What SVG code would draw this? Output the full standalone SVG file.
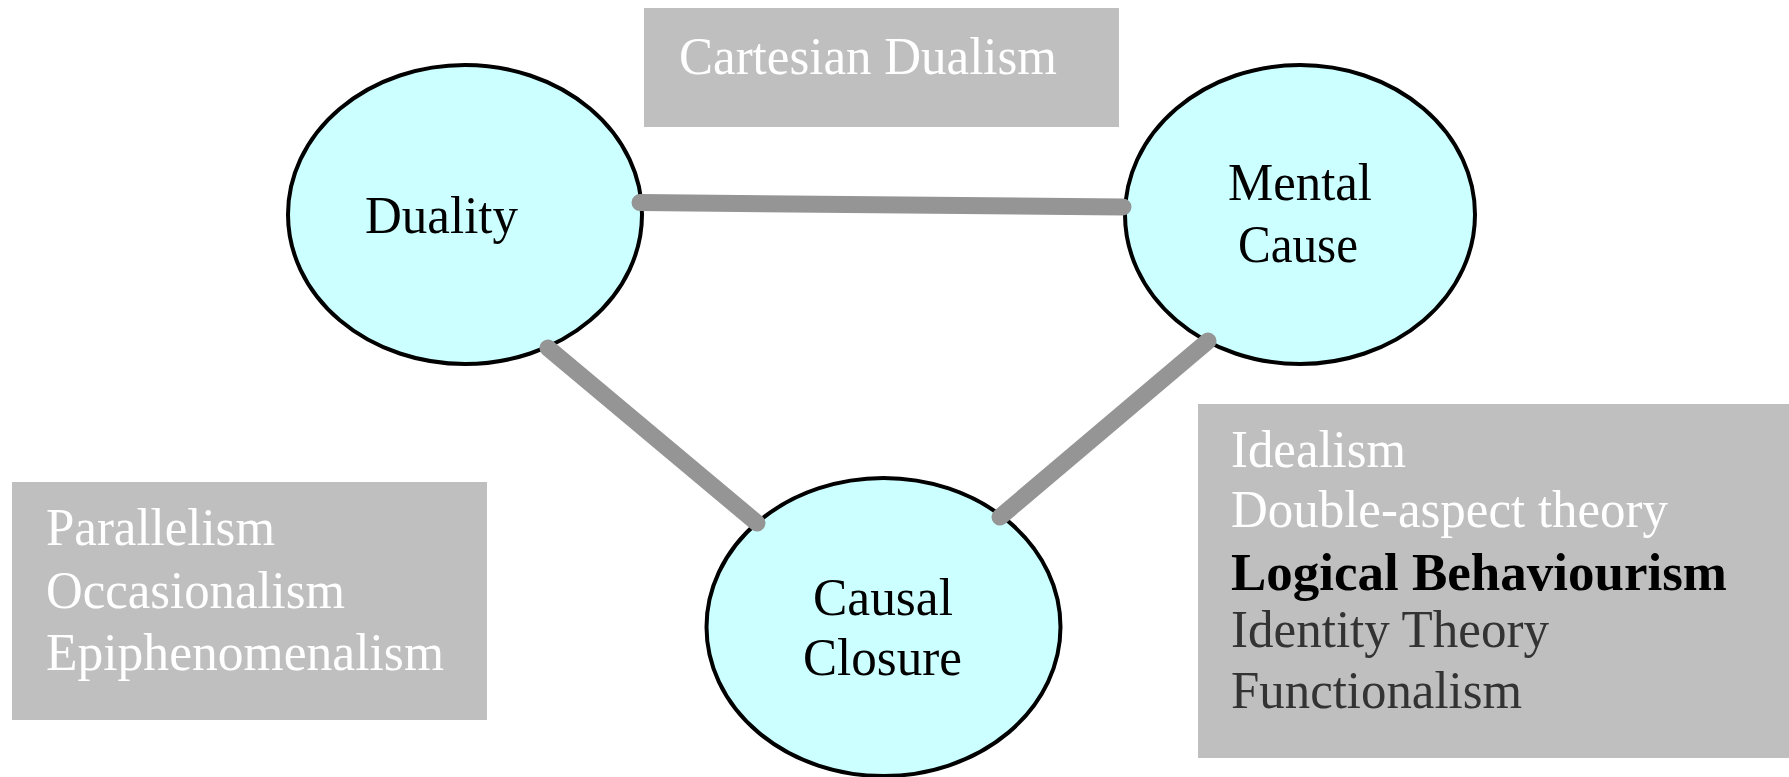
<svg xmlns="http://www.w3.org/2000/svg" width="1789" height="777" viewBox="0 0 1789 777">
<style>
  .box { fill: #BFBFBF; }
  .node { fill: #CCFFFF; stroke: #000; stroke-width: 4; }
  .conn { stroke: #959595; stroke-width: 17; stroke-linecap: round; fill: none; }
  text { font-family: "Liberation Serif", "Times New Roman", serif; font-size: 52px; }
  .lbl { fill: #000; }
  .w { fill: #FFFFFF; }
  .d { fill: #333333; }
  .b { fill: #000; font-weight: bold; }
</style>
<rect width="1789" height="777" fill="#FFFFFF"/>
<g id="box-cartesian">
  <rect class="box" x="644" y="8" width="475" height="119"/>
  <text class="w" x="679" y="74" textLength="378" lengthAdjust="spacingAndGlyphs">Cartesian Dualism</text>
</g>
<g id="box-left">
  <rect class="box" x="12" y="482" width="475" height="238"/>
  <text class="w" x="46" y="545" textLength="229" lengthAdjust="spacingAndGlyphs">Parallelism</text>
  <text class="w" x="46" y="608" textLength="299" lengthAdjust="spacingAndGlyphs">Occasionalism</text>
  <text class="w" x="46" y="670" textLength="398" lengthAdjust="spacingAndGlyphs">Epiphenomenalism</text>
</g>
<g id="box-right">
  <rect class="box" x="1198" y="404" width="600" height="354"/>
  <text class="w" x="1231" y="467" textLength="175" lengthAdjust="spacingAndGlyphs">Idealism</text>
  <text class="w" x="1231" y="527" textLength="437" lengthAdjust="spacingAndGlyphs">Double-aspect theory</text>
  <text class="b" x="1231" y="590" textLength="496" lengthAdjust="spacingAndGlyphs">Logical Behaviourism</text>
  <text class="d" x="1231" y="647" textLength="318" lengthAdjust="spacingAndGlyphs">Identity Theory</text>
  <text class="d" x="1231" y="708" textLength="291" lengthAdjust="spacingAndGlyphs">Functionalism</text>
</g>
<g id="node-duality">
  <ellipse class="node" cx="465" cy="214.5" rx="177" ry="149.5"/>
  <text class="lbl" x="365" y="233" textLength="153" lengthAdjust="spacingAndGlyphs">Duality</text>
</g>
<g id="node-mental-cause">
  <ellipse class="node" cx="1300" cy="214.5" rx="175" ry="149.5"/>
  <text class="lbl" x="1228" y="200" textLength="144" lengthAdjust="spacingAndGlyphs">Mental</text>
  <text class="lbl" x="1238" y="262" textLength="120" lengthAdjust="spacingAndGlyphs">Cause</text>
</g>
<g id="node-causal-closure">
  <ellipse class="node" cx="883.5" cy="627" rx="177" ry="149"/>
  <text class="lbl" x="813" y="615" textLength="140" lengthAdjust="spacingAndGlyphs">Causal</text>
  <text class="lbl" x="803" y="675" textLength="159" lengthAdjust="spacingAndGlyphs">Closure</text>
</g>
<g id="connectors">
  <line class="conn" x1="640" y1="202.5" x2="1123" y2="207"/>
  <line class="conn" x1="548" y1="348" x2="757" y2="523"/>
  <line class="conn" x1="1208" y1="341" x2="1000" y2="517"/>
</g>
</svg>
